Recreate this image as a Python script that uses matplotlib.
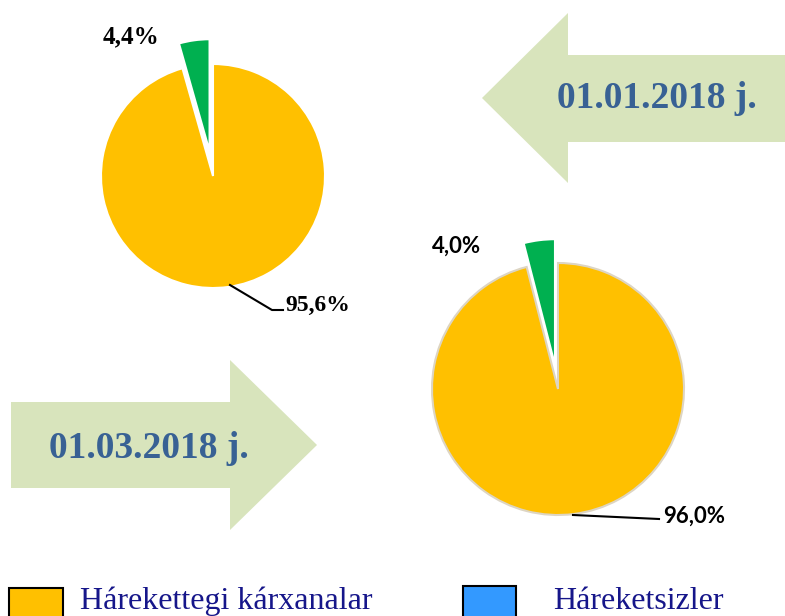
import matplotlib.pyplot as plt

# Data
legend_labels = ["Hárekettegi kárxanalar", "Háreketsizler"]
dates = ["01.01.2018 j.", "01.03.2018 j."]
shares_jan = [95.6, 4.4]   # yellow, green
shares_mar = [96.0, 4.0]

yellow = "#FFC000"
green = "#00B050"
blue = "#3399FF"
arrow_col = "#D8E4BC"
date_col = "#386194"
navy = "#16168A"

W, H = 785, 616


def Y(y):
    return H - y


def pct(v):
    return f"{v:.1f}%".replace(".", ",")


fig = plt.figure(figsize=(7.85, 6.16), dpi=100)
ax = fig.add_axes([0, 0, 1, 1])

# ---------------------------
# ARROWS
# ---------------------------
# left-pointing arrow (top right)
ax.fill([482, 568, 568, 790, 790, 568, 568],
        [Y(98), Y(13), Y(55), Y(55), Y(142), Y(142), Y(183)],
        color=arrow_col, lw=0, zorder=1)
ax.text(657, Y(99), dates[0], ha="center", va="center", fontsize=27,
        fontweight="bold", family="Liberation Serif", color=date_col, zorder=2)

# right-pointing arrow (bottom left)
ax.fill([11, 230, 230, 317, 230, 230, 11],
        [Y(402), Y(402), Y(360), Y(445), Y(530), Y(488), Y(488)],
        color=arrow_col, lw=0, zorder=1)
ax.text(149, Y(449), dates[1], ha="center", va="center", fontsize=27,
        fontweight="bold", family="Liberation Serif", color=date_col, zorder=2)

# ---------------------------
# PIES (explode is in data units here)
# ---------------------------
w1, _ = ax.pie(shares_jan, colors=[yellow, green], startangle=90,
               counterclock=False, explode=[0, 25],
               center=(213, Y(176)), radius=112,
               wedgeprops=dict(edgecolor="white", linewidth=1.5))

w2, _ = ax.pie(shares_mar, colors=[yellow, green], startangle=90,
               counterclock=False, explode=[0, 24],
               center=(558, Y(389)), radius=126,
               wedgeprops=dict(edgecolor="white", linewidth=1.5))
w2[0].set_edgecolor("#DDD5C3")

# labels, first pie
ax.text(131, Y(37), pct(shares_jan[1]), ha="center", va="center",
        fontsize=18, fontweight="bold", family="Liberation Serif")
ax.plot([230, 272, 283], [Y(285), Y(310), Y(310)], color="black", lw=1.5)
ax.text(285, Y(305), pct(shares_jan[0]), ha="left", va="center",
        fontsize=17, fontweight="bold", family="Liberation Serif")

# labels, second pie
ax.text(457, Y(246), pct(shares_mar[1]), ha="center", va="center",
        fontsize=16, fontweight="bold", family="Lato")
ax.plot([573, 659], [Y(515), Y(519)], color="black", lw=1.5)
ax.text(663, Y(516), pct(shares_mar[0]), ha="left", va="center",
        fontsize=16, fontweight="bold", family="Lato")

# ---------------------------
# LEGEND
# ---------------------------
ax.add_patch(plt.Rectangle((9, Y(630)), 54, 42, facecolor=yellow,
                           edgecolor="black", lw=1.5))
ax.text(80, Y(609), legend_labels[0], ha="left", va="baseline",
        fontsize=23, family="Liberation Serif", color=navy)
ax.add_patch(plt.Rectangle((463, Y(630)), 53, 44, facecolor=blue,
                           edgecolor="black", lw=1.5))
ax.text(553, Y(609), legend_labels[1], ha="left", va="baseline",
        fontsize=23, family="Liberation Serif", color=navy)

ax.set_xlim(0, W)
ax.set_ylim(0, H)
ax.set_aspect("equal")
ax.axis("off")

plt.savefig("out.png", dpi=100)
